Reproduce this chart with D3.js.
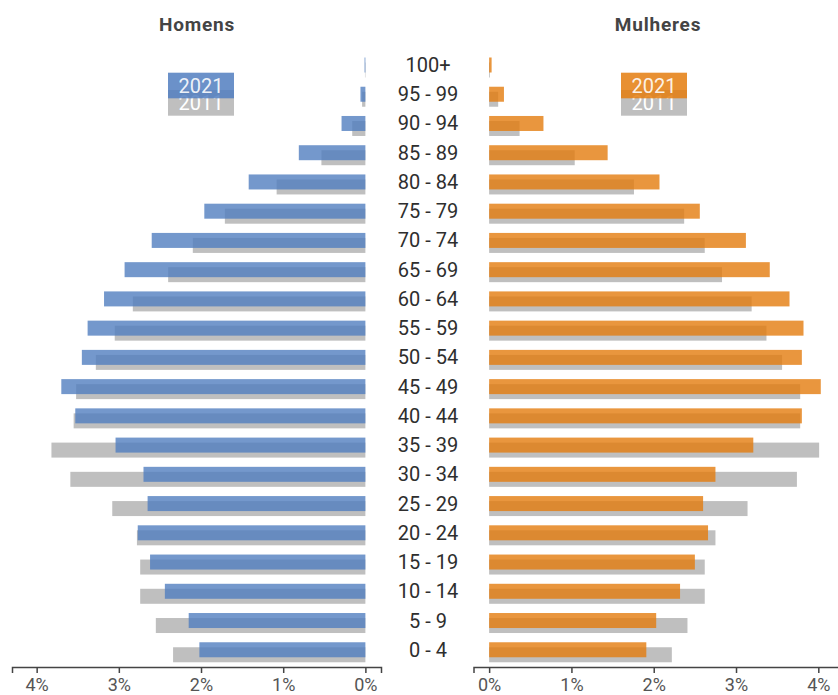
<!DOCTYPE html>
<html>
<head>
<meta charset="utf-8">
<script src="https://cdn.jsdelivr.net/npm/d3@7"></script>
<style>
  body { margin: 0; background: #fff; }
  svg { display: block; font-family: Roboto, "Noto Sans", sans-serif; }
  .axis path, .axis line { stroke: #444; stroke-width: 1.5; }
  .axis text { fill: #555; font-size: 18px; font-family: Roboto, sans-serif; }
</style>
</head>
<body>
<div id="chart"></div>
<script>
// age groups, top to bottom
var ages = ["100+", "95 - 99", "90 - 94", "85 - 89", "80 - 84", "75 - 79", "70 - 74",
  "65 - 69", "60 - 64", "55 - 59", "50 - 54", "45 - 49", "40 - 44", "35 - 39",
  "30 - 34", "25 - 29", "20 - 24", "15 - 19", "10 - 14", "5 - 9", "0 - 4"];

// % of population
var homens2021 = [0.01, 0.06, 0.29, 0.81, 1.42, 1.96, 2.60, 2.93, 3.18, 3.38, 3.45,
  3.70, 3.53, 3.04, 2.70, 2.65, 2.77, 2.62, 2.44, 2.15, 2.02];
var homens2011 = [0.005, 0.04, 0.16, 0.535, 1.08, 1.71, 2.10, 2.40, 2.83, 3.05, 3.28,
  3.52, 3.55, 3.82, 3.59, 3.08, 2.78, 2.74, 2.74, 2.55, 2.34];
var mulheres2021 = [0.03, 0.18, 0.66, 1.44, 2.07, 2.56, 3.12, 3.41, 3.65, 3.82, 3.80,
  4.03, 3.80, 3.21, 2.75, 2.60, 2.66, 2.50, 2.32, 2.03, 1.91];
var mulheres2011 = [0.01, 0.11, 0.37, 1.04, 1.76, 2.37, 2.62, 2.83, 3.19, 3.37, 3.56,
  3.78, 3.78, 4.01, 3.74, 3.14, 2.75, 2.62, 2.62, 2.41, 2.22];

var tickVals = [0, 1, 2, 3, 4];
var years = ["2021", "2011"];

var width = 838, height = 695;
var blue = "#517ebf", orange = "#e47c0e", grey = "#bfbfbf";

var svg = d3.select("#chart").append("svg")
  .attr("width", width).attr("height", height);

var y = d3.scaleBand().domain(ages).range([52, 666]);

var xLeft = d3.scaleLinear().domain([-0.19, 4.3]).range([381, 12]);
var xRight = d3.scaleLinear().domain([-0.19, 4.3]).range([473.5, 843]);

function drawSide(xs, v2011, v2021, color) {
  var g = svg.append("g");
  // 2011 behind
  g.selectAll("rect.old").data(ages).enter().append("rect")
    .attr("class", "old")
    .attr("x", function(d, i) { return Math.min(xs(0), xs(v2011[i])); })
    .attr("width", function(d, i) { return Math.abs(xs(v2011[i]) - xs(0)); })
    .attr("y", function(d) { return y(d) + 10.5; })
    .attr("height", 15)
    .attr("fill", grey);
  // 2021 on top, a bit see-through
  g.selectAll("rect.new").data(ages).enter().append("rect")
    .attr("class", "new")
    .attr("x", function(d, i) { return Math.min(xs(0), xs(v2021[i])); })
    .attr("width", function(d, i) { return Math.abs(xs(v2021[i]) - xs(0)); })
    .attr("y", function(d) { return y(d) + 5.5; })
    .attr("height", 15)
    .attr("fill", color)
    .attr("fill-opacity", 0.8);
}

drawSide(xLeft, homens2011, homens2021, blue);
drawSide(xRight, mulheres2011, mulheres2021, orange);

// age labels
svg.append("g").selectAll("text").data(ages).enter().append("text")
  .attr("x", 428)
  .attr("y", function(d) { return y(d) + 13; })
  .attr("text-anchor", "middle")
  .attr("dominant-baseline", "central")
  .attr("fill", "#2e2e2e")
  .style("font-size", "20px")
  .text(function(d) { return d; });

// axes
function pct(d) { return d + "%"; }
svg.append("g").attr("class", "axis")
  .attr("transform", "translate(0,667)")
  .call(d3.axisBottom(xLeft).tickValues(tickVals).tickSizeOuter(0)
    .tickSize(6).tickPadding(5).tickFormat(pct));
svg.append("g").attr("class", "axis")
  .attr("transform", "translate(0,667)")
  .call(d3.axisBottom(xRight).tickValues(tickVals).tickSizeOuter(0)
    .tickSize(6).tickPadding(5).tickFormat(pct));

// titles
svg.append("text").attr("x", 197).attr("y", 30.5).attr("text-anchor", "middle")
  .attr("fill", "#444").style("font-size", "19px").style("font-weight", "bold")
  .style("letter-spacing", "0.8px").text("Homens");
svg.append("text").attr("x", 658).attr("y", 30.5).attr("text-anchor", "middle")
  .attr("fill", "#444").style("font-size", "19px").style("font-weight", "bold")
  .style("letter-spacing", "0.8px").text("Mulheres");

// legends: grey 2011 box behind, 2021 box overlapping it
function legend(x0, color) {
  var g = svg.append("g");
  g.append("rect").attr("x", x0).attr("y", 90).attr("width", 66).attr("height", 25.7)
    .attr("fill", grey);
  g.append("text").attr("x", x0 + 33).attr("y", 110).attr("text-anchor", "middle")
    .attr("fill", "#fff").style("font-size", "20px").text(years[1]);
  g.append("rect").attr("x", x0).attr("y", 72.7).attr("width", 66).attr("height", 25.6)
    .attr("fill", color).attr("fill-opacity", 0.85);
  g.append("text").attr("x", x0 + 33).attr("y", 93.3).attr("text-anchor", "middle")
    .attr("fill", "#fff").attr("fill-opacity", 0.9).style("font-size", "20px").text(years[0]);
}
legend(168, blue);
legend(621, orange);
</script>
</body>
</html>
